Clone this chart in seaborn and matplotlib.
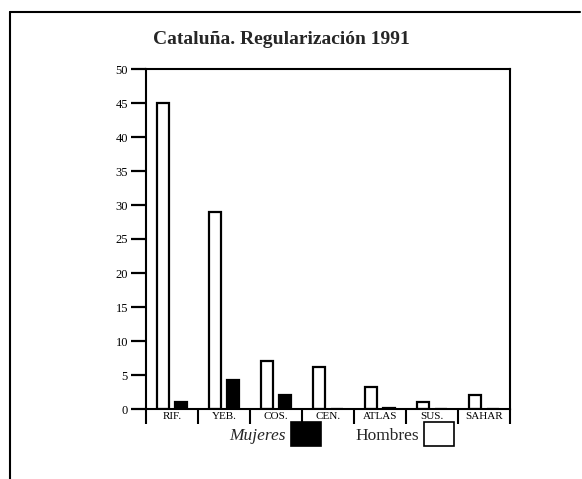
"""Cataluña, regularización 1991 - bar chart"""

import matplotlib

matplotlib.use("Agg")
import matplotlib.pyplot as plt
import pandas as pd
import seaborn as sns
from matplotlib.lines import Line2D
from matplotlib.patches import Patch

regions = ["RIF.", "YEB.", "COS.", "CEN.", "ATLAS", "SUS.", "SAHAR"]
hombres = [45, 29, 7, 6.2, 3.2, 1, 2]
mujeres = [1, 4.2, 2, 0, 0.2, 0, 0]
yticks = list(range(0, 51, 5))

df = pd.DataFrame(
    {
        "region": regions * 2,
        "valor": hombres + mujeres,
        "sexo": ["Hombres"] * len(regions) + ["Mujeres"] * len(regions),
    }
)

sns.set_theme(style="white")
plt.rcParams["font.family"] = ["Liberation Serif", "DejaVu Serif"]

fig = plt.figure(figsize=(5.82, 4.79), dpi=100)
ax = fig.add_axes([146 / 582, 1 - 409 / 479, 364 / 582, 340 / 479])

sns.barplot(
    data=df,
    x="region",
    y="valor",
    hue="sexo",
    hue_order=["Hombres", "Mujeres"],
    palette={"Hombres": "white", "Mujeres": "black"},
    edgecolor="black",
    linewidth=1.6,
    width=0.7,
    gap=0.33,
    legend=False,
    ax=ax,
)

ax.set_xlim(-0.5, len(regions) - 0.5)
ax.set_ylim(0, 50)
ax.set_yticks(yticks)
ax.set_xlabel("")
ax.set_ylabel("")
for sp in ax.spines.values():
    sp.set_color("black")
    sp.set_linewidth(1.5)

ax.tick_params(axis="y", direction="out", length=11, width=1.6, pad=2,
               labelsize=9, colors="black", left=True)
ax.tick_params(axis="x", which="major", length=0, pad=2, labelsize=8,
               labelcolor="black")
ax.set_xticks([i + 0.5 for i in range(-1, len(regions))], minor=True)
ax.tick_params(axis="x", which="minor", direction="out", length=11,
               width=1.5, color="black", bottom=True)

fig.text(0.483, 1 - 39 / 479, "Cataluña. Regularización 1991",
         ha="center", va="center", fontsize=14, fontweight="bold")

handles = [
    Patch(facecolor="black", edgecolor="black", linewidth=1.2),
    Patch(facecolor="white", edgecolor="black", linewidth=1.2),
]
leg = fig.legend(
    handles,
    ["Mujeres", "Hombres"],
    loc="center left",
    bbox_to_anchor=(221 / 582, 1 - 434 / 479),
    ncol=2,
    frameon=False,
    markerfirst=False,
    handlelength=1.7,
    handleheight=1.7,
    handletextpad=0.3,
    columnspacing=2.0,
    fontsize=12.5,
    borderpad=0,
)
texts = leg.get_texts()
texts[0].set_fontstyle("italic")

# page frame
fig.add_artist(Line2D([10 / 582, 580 / 582], [1 - 12 / 479, 1 - 12 / 479],
                      color="black", lw=1.5))
fig.add_artist(Line2D([10 / 582, 10 / 582], [0, 1 - 12 / 479],
                      color="black", lw=1.5))

fig.savefig("out.png", dpi=100, facecolor="white")
